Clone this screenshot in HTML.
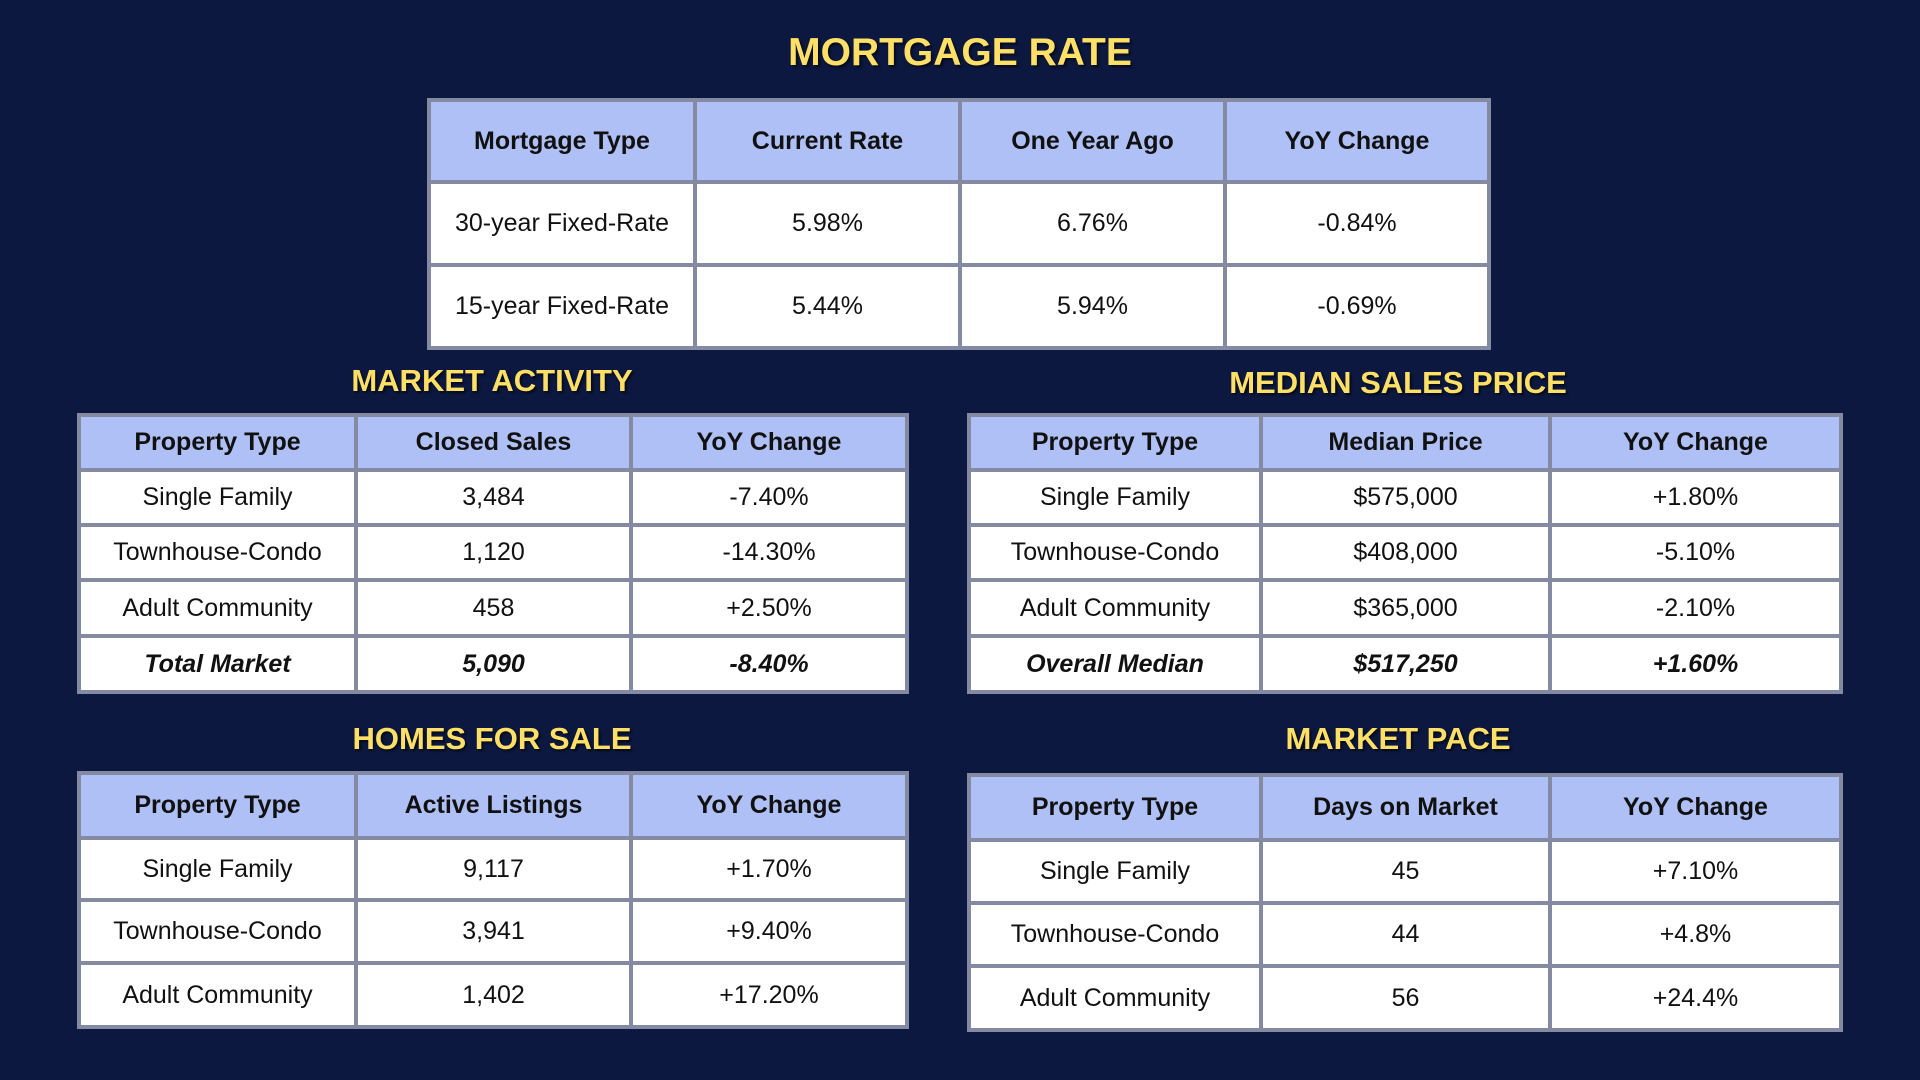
<!DOCTYPE html>
<html><head><meta charset="utf-8"><style>
html,body{margin:0;padding:0}
body{width:1920px;height:1080px;background:#0c1840;position:relative;overflow:hidden;font-family:"Liberation Sans",sans-serif}
.t{position:absolute;color:#ffe066;font-weight:bold;text-align:center;transform:translate(-50%,-50%);white-space:nowrap;text-shadow:2px 2px 2px rgba(0,0,0,.6)}
table{position:absolute;border-collapse:collapse;table-layout:fixed;background:#fff}
td,th{border:4px solid #858aa3;text-align:center;padding:0;font-size:25px;color:#111;white-space:nowrap}
th{background:#aec0f5;font-weight:bold;font-size:25px}
tr.tot td{font-weight:bold;font-style:italic}
</style></head><body>
<div class="t" style="left:960px;top:53px;font-size:39px">MORTGAGE RATE</div>
<table style="left:427px;top:98px;width:1060px">
<colgroup><col style="width:266px"><col style="width:265px"><col style="width:265px"><col style="width:264px"></colgroup>
<tr style="height:82px"><th>Mortgage Type</th><th>Current Rate</th><th>One Year Ago</th><th>YoY Change</th></tr>
<tr style="height:83px"><td>30-year Fixed-Rate</td><td>5.98%</td><td>6.76%</td><td>-0.84%</td></tr>
<tr style="height:83px"><td>15-year Fixed-Rate</td><td>5.44%</td><td>5.94%</td><td>-0.69%</td></tr>
</table>

<div class="t" style="left:492px;top:381px;font-size:31px">MARKET ACTIVITY</div>
<table style="left:77px;top:413px;width:828px">
<colgroup><col style="width:277px"><col style="width:275px"><col style="width:276px"></colgroup>
<tr style="height:55px"><th>Property Type</th><th>Closed Sales</th><th>YoY Change</th></tr>
<tr style="height:55px"><td>Single Family</td><td>3,484</td><td>-7.40%</td></tr>
<tr style="height:55px"><td>Townhouse-Condo</td><td>1,120</td><td>-14.30%</td></tr>
<tr style="height:56px"><td>Adult Community</td><td>458</td><td>+2.50%</td></tr>
<tr class="tot" style="height:56px"><td>Total Market</td><td>5,090</td><td>-8.40%</td></tr>
</table>

<div class="t" style="left:1398px;top:383px;font-size:31px">MEDIAN SALES PRICE</div>
<table style="left:967px;top:413px;width:872px">
<colgroup><col style="width:292px"><col style="width:289px"><col style="width:291px"></colgroup>
<tr style="height:55px"><th>Property Type</th><th>Median Price</th><th>YoY Change</th></tr>
<tr style="height:55px"><td>Single Family</td><td>$575,000</td><td>+1.80%</td></tr>
<tr style="height:55px"><td>Townhouse-Condo</td><td>$408,000</td><td>-5.10%</td></tr>
<tr style="height:56px"><td>Adult Community</td><td>$365,000</td><td>-2.10%</td></tr>
<tr class="tot" style="height:56px"><td>Overall Median</td><td>$517,250</td><td>+1.60%</td></tr>
</table>

<div class="t" style="left:492px;top:739px;font-size:31px">HOMES FOR SALE</div>
<table style="left:77px;top:771px;width:828px">
<colgroup><col style="width:277px"><col style="width:275px"><col style="width:276px"></colgroup>
<tr style="height:65px"><th>Property Type</th><th>Active Listings</th><th>YoY Change</th></tr>
<tr style="height:62px"><td>Single Family</td><td>9,117</td><td>+1.70%</td></tr>
<tr style="height:63px"><td>Townhouse-Condo</td><td>3,941</td><td>+9.40%</td></tr>
<tr style="height:64px"><td>Adult Community</td><td>1,402</td><td>+17.20%</td></tr>
</table>

<div class="t" style="left:1398px;top:739px;font-size:31px">MARKET PACE</div>
<table style="left:967px;top:773px;width:872px">
<colgroup><col style="width:292px"><col style="width:289px"><col style="width:291px"></colgroup>
<tr style="height:65px"><th>Property Type</th><th>Days on Market</th><th>YoY Change</th></tr>
<tr style="height:63px"><td>Single Family</td><td>45</td><td>+7.10%</td></tr>
<tr style="height:63px"><td>Townhouse-Condo</td><td>44</td><td>+4.8%</td></tr>
<tr style="height:64px"><td>Adult Community</td><td>56</td><td>+24.4%</td></tr>
</table>
</body></html>
